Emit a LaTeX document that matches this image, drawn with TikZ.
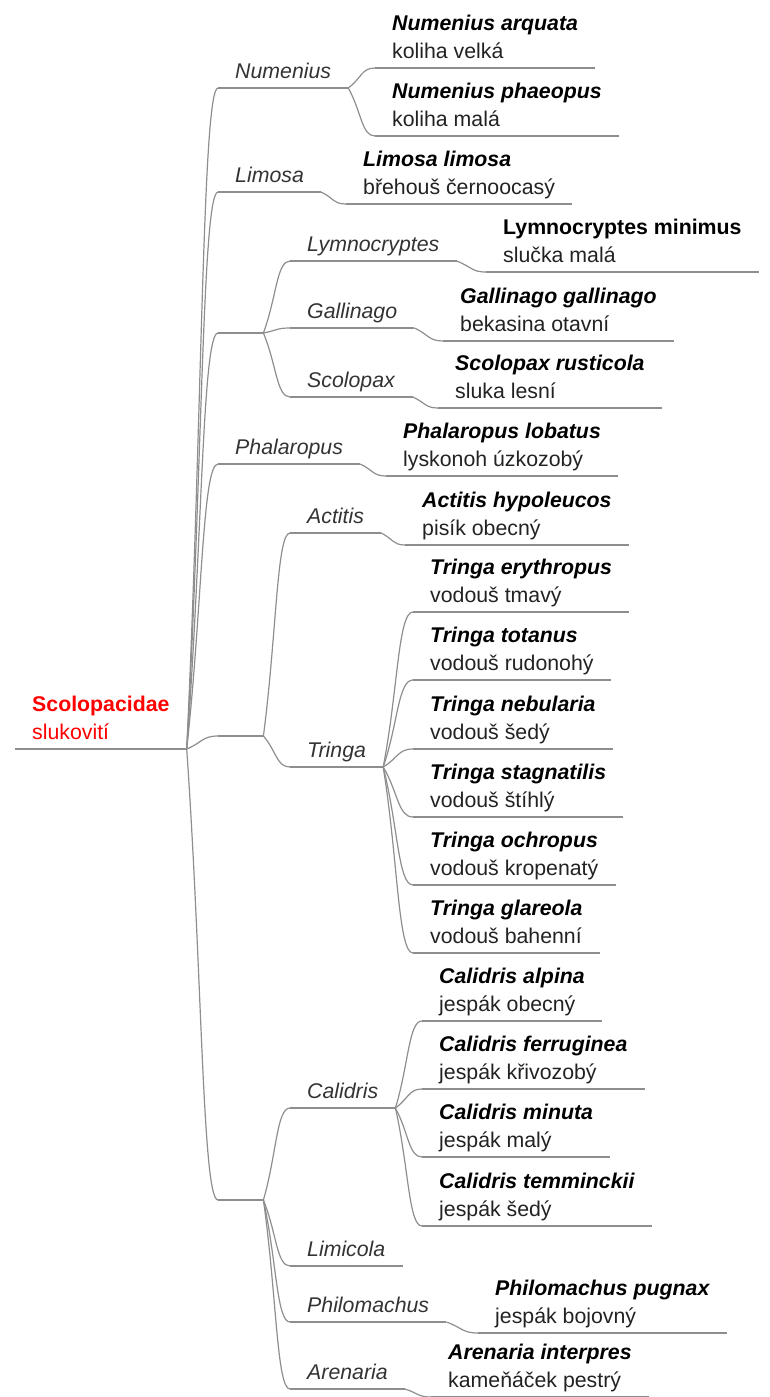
\documentclass[tikz,border=0pt]{standalone}
\usepackage{fontspec}
\setmainfont{Liberation Sans}
\usetikzlibrary{calc}
\definecolor{Line_Gray}{HTML}{8E8E8E}
\definecolor{Root_Red}{HTML}{FF0000}
\definecolor{Genus_Gray}{HTML}{333333}
\definecolor{Common_Gray}{HTML}{222222}

\newcommand{\mapfont}{\fontsize{21.3}{28}\selectfont}
\newcommand{\species}[2]{\strut\textbf{\textit{#1}}\\\strut\textcolor{Common_Gray}{#2}}
\newcommand{\genus}[1]{\strut\textcolor{Genus_Gray}{\textit{#1}}}
% curved connector: parent underline end -> child underline start
\newcommand{\branch}[2]{\draw[conn] (#1.south east) .. controls ($(#1.south east)!0.5!(#2.south west)$) and ($(#2.south west)!0.5!(#2.south west -| #1.south east)$) .. (#2.south west);}

\tikzset{
    uline/.style={draw=Line_Gray, line width=1.2pt},
    conn/.style={draw=Line_Gray, line width=1.2pt},
    topic/.style={anchor=south west, align=left, inner xsep=17pt, inner ysep=1pt, font=\mapfont,
        append after command={(\tikzlastnode.south west) edge[uline] (\tikzlastnode.south east)}},
    grouptopic/.style={topic, minimum width=45pt}
}

\begin{document}
\begin{tikzpicture}[x=1pt, y=-1pt]

    \useasboundingbox (0,0) rectangle (769,1397);

    % === Root ===
    \node[topic, text=Root_Red] (root) at (15,749) {\strut\textbf{Scolopacidae}\\\strut slukovití};

    % === First level ===
    \node[topic] (numenius)   at (218,88)   {\genus{Numenius}};
    \node[topic] (limosa)     at (218,192)  {\genus{Limosa}};
    \node[grouptopic] (grpA)  at (218,333)  {};
    \node[topic] (phalaropus) at (218,464)  {\genus{Phalaropus}};
    \node[grouptopic] (grpB)  at (218,736)  {};
    \node[grouptopic] (grpC)  at (218,1200) {};

    % === Numenius, Limosa ===
    \node[topic] (narquata)  at (375,68)  {\species{Numenius arquata}{koliha velká}};
    \node[topic] (nphaeopus) at (375,136) {\species{Numenius phaeopus}{koliha malá}};
    \node[topic] (llimosa)   at (346,204) {\species{Limosa limosa}{břehouš černoocasý}};

    % === Group A ===
    \node[topic] (lymnocryptes) at (290,261) {\genus{Lymnocryptes}};
    \node[topic] (gallinago)    at (290,328) {\genus{Gallinago}};
    \node[topic] (scolopax)     at (290,397) {\genus{Scolopax}};
    \node[topic] (lminimus)   at (486,272) {\strut\textbf{Lymnocryptes minimus}\\\strut\textcolor{Common_Gray}{slučka malá}};
    \node[topic] (ggallinago) at (443,341) {\species{Gallinago gallinago}{bekasina otavní}};
    \node[topic] (srusticola) at (438,408) {\species{Scolopax rusticola}{sluka lesní}};

    % === Phalaropus ===
    \node[topic] (plobatus) at (386,476) {\species{Phalaropus lobatus}{lyskonoh úzkozobý}};

    % === Group B ===
    \node[topic] (actitis) at (290,533) {\genus{Actitis}};
    \node[topic] (tringa)  at (290,767) {\genus{Tringa}};
    \node[topic] (ahypoleucos) at (405,545) {\species{Actitis hypoleucos}{pisík obecný}};
    \node[topic] (terythropus)  at (413,612) {\species{Tringa erythropus}{vodouš tmavý}};
    \node[topic] (ttotanus)     at (413,680) {\species{Tringa totanus}{vodouš rudonohý}};
    \node[topic] (tnebularia)   at (413,749) {\species{Tringa nebularia}{vodouš šedý}};
    \node[topic] (tstagnatilis) at (413,817) {\species{Tringa stagnatilis}{vodouš štíhlý}};
    \node[topic] (tochropus)    at (413,885) {\species{Tringa ochropus}{vodouš kropenatý}};
    \node[topic] (tglareola)    at (413,953) {\species{Tringa glareola}{vodouš bahenní}};

    % === Group C ===
    \node[topic] (calidris)    at (290,1108) {\genus{Calidris}};
    \node[topic] (limicola)    at (290,1266) {\genus{Limicola}};
    \node[topic] (philomachus) at (290,1322) {\genus{Philomachus}};
    \node[topic] (arenaria)    at (290,1389) {\genus{Arenaria}};
    \node[topic] (calpina)      at (422,1021) {\species{Calidris alpina}{jespák obecný}};
    \node[topic] (cferruginea)  at (422,1089) {\species{Calidris ferruginea}{jespák křivozobý}};
    \node[topic] (cminuta)      at (422,1157) {\species{Calidris minuta}{jespák malý}};
    \node[topic] (ctemminckii)  at (422,1226) {\species{Calidris temminckii}{jespák šedý}};
    \node[topic] (ppugnax)      at (478,1333) {\species{Philomachus pugnax}{jespák bojovný}};
    \node[topic] (ainterpres)   at (431,1397) {\species{Arenaria interpres}{kameňáček pestrý}};

    % === Connectors ===
    \branch{root}{numenius}
    \branch{root}{limosa}
    \branch{root}{grpA}
    \branch{root}{phalaropus}
    \branch{root}{grpB}
    \branch{root}{grpC}

    \branch{numenius}{narquata}
    \branch{numenius}{nphaeopus}
    \branch{limosa}{llimosa}

    \branch{grpA}{lymnocryptes}
    \branch{grpA}{gallinago}
    \branch{grpA}{scolopax}
    \branch{lymnocryptes}{lminimus}
    \branch{gallinago}{ggallinago}
    \branch{scolopax}{srusticola}

    \branch{phalaropus}{plobatus}

    \branch{grpB}{actitis}
    \branch{grpB}{tringa}
    \branch{actitis}{ahypoleucos}
    \branch{tringa}{terythropus}
    \branch{tringa}{ttotanus}
    \branch{tringa}{tnebularia}
    \branch{tringa}{tstagnatilis}
    \branch{tringa}{tochropus}
    \branch{tringa}{tglareola}

    \branch{grpC}{calidris}
    \branch{grpC}{limicola}
    \branch{grpC}{philomachus}
    \branch{grpC}{arenaria}
    \branch{calidris}{calpina}
    \branch{calidris}{cferruginea}
    \branch{calidris}{cminuta}
    \branch{calidris}{ctemminckii}
    \branch{philomachus}{ppugnax}
    \branch{arenaria}{ainterpres}

\end{tikzpicture}
\end{document}
